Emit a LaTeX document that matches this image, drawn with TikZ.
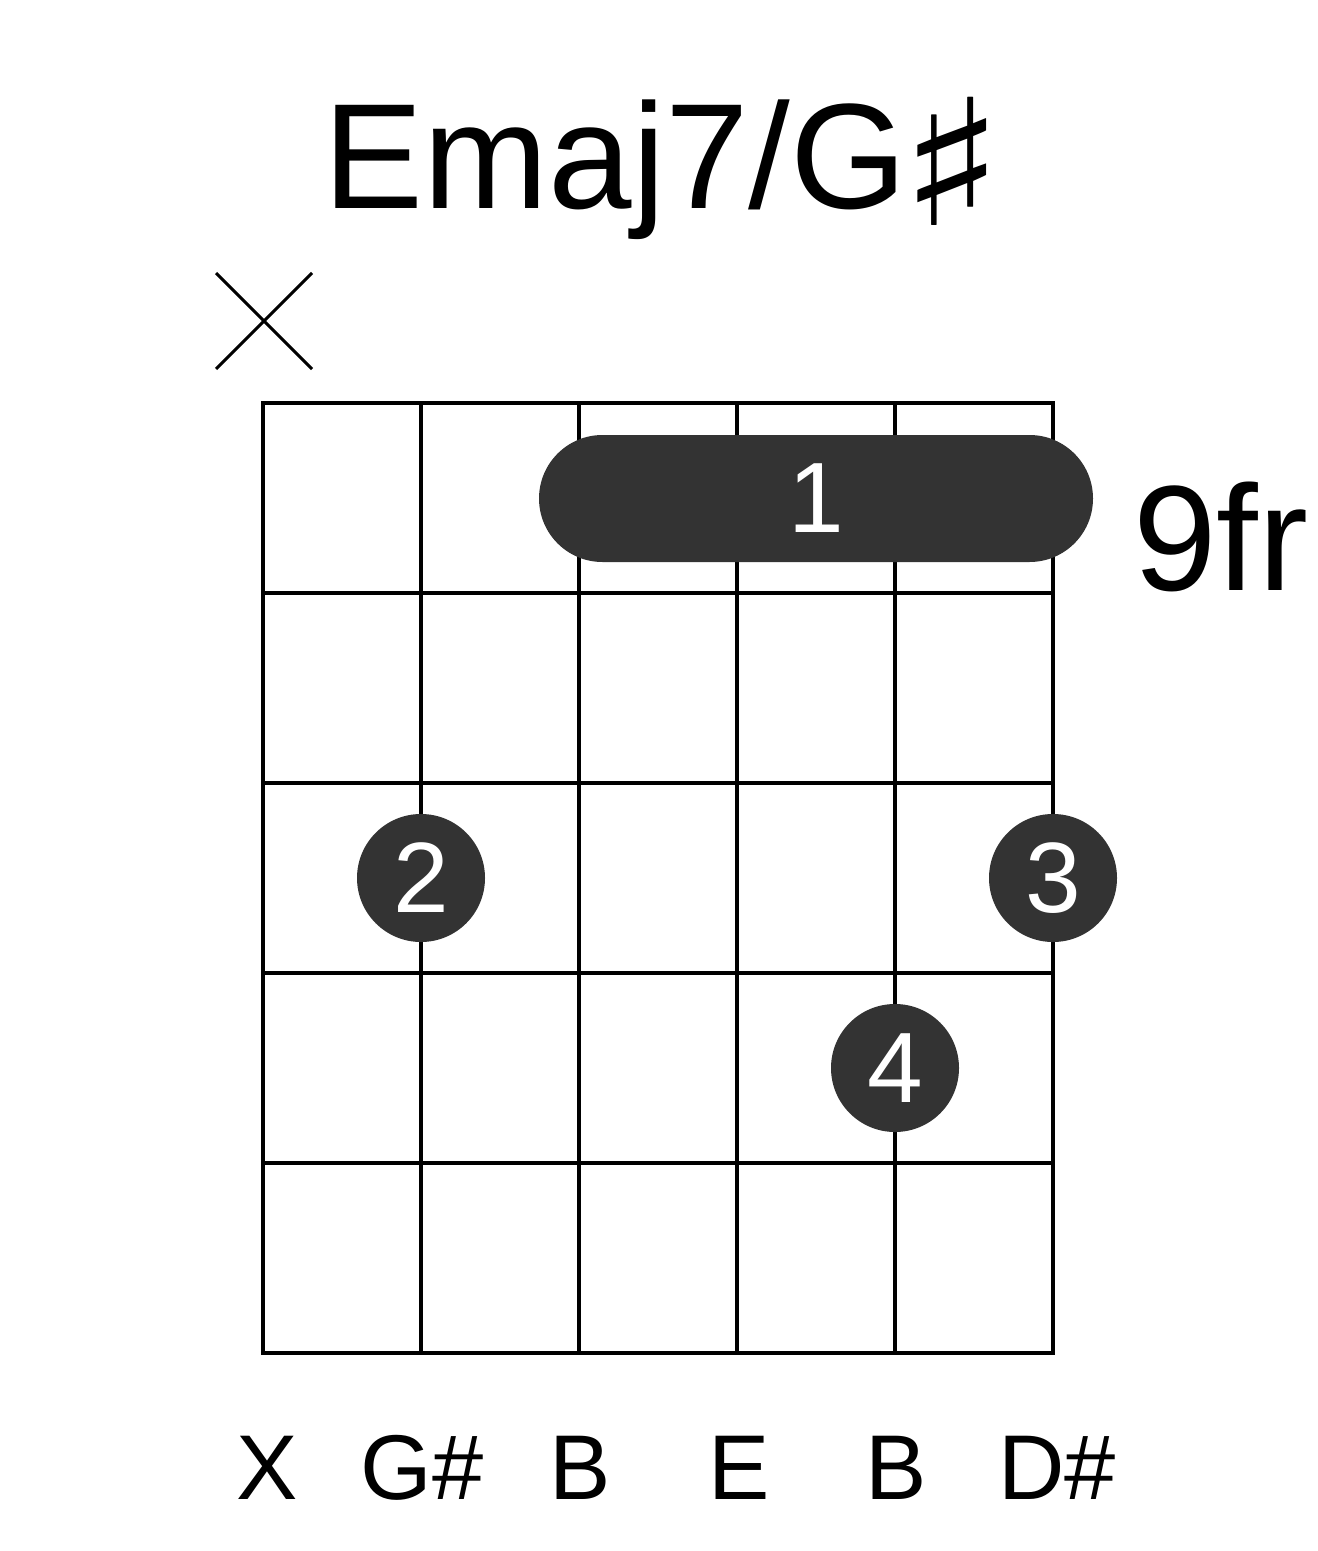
\documentclass[tikz,border=0pt]{standalone}
\usepackage{fontspec}
\setmainfont{Liberation Sans}
\newfontfamily\symfont{DejaVu Sans}
\usetikzlibrary{positioning}

\begin{document}
\begin{tikzpicture}[
    x=0.5pt, y=-0.5pt,
    fret/.style={line width=2.25pt},
    mute/.style={line width=1.5pt},
    dot/.style={circle, fill=black!80, text=white, minimum size=64pt,
                inner sep=0pt, font=\fontsize{50}{60}\selectfont},
    barre/.style={rectangle, rounded corners=31.75pt, fill=black!80, text=white,
                  minimum width=277pt, minimum height=63.5pt, inner sep=0pt,
                  font=\fontsize{50}{60}\selectfont},
    note/.style={anchor=base, font=\fontsize{46}{55}\selectfont},
    big/.style={font=\fontsize{75}{90}\selectfont}
]
\useasboundingbox (0,0) rectangle (1317,1551);

% title
\node[big, anchor=base] (title) at (664,209)
    {Emaj7/G\kern-4pt\raisebox{-8.5pt}{\scalebox{1.45}[1.17]{\symfont ♯}}};

% muted string
\draw[mute] (216,273) -- (312,369);
\draw[mute] (216,369) -- (312,273);

% grid
\draw[fret] (263,403) rectangle (1053,1353);
\draw[fret] (421,403) -- (421,1353);
\draw[fret] (579,403) -- (579,1353);
\draw[fret] (737,403) -- (737,1353);
\draw[fret] (895,403) -- (895,1353);
\draw[fret] (263,593) -- (1053,593);
\draw[fret] (263,783) -- (1053,783);
\draw[fret] (263,973) -- (1053,973);
\draw[fret] (263,1163) -- (1053,1163);

% fingers
\node[barre] (bar) at (816,498.5) {1};
\node[dot] (two) at (421,878) {2};
\node[dot] (three) at (1053,878) {3};
\node[dot] (four) at (895,1068) {4};

% fret number
\node[big, anchor=base west, inner sep=0pt] (fr) at (1133,590) {9fr};

% notes
\node[note] (n1) at (267,1499) {X};
\node[note] (n2) at (422,1499) {G\#};
\node[note] (n3) at (580,1499) {B};
\node[note] (n4) at (739,1499) {E};
\node[note] (n5) at (896,1499) {B};
\node[note] (n6) at (1057,1499) {D\#};
\end{tikzpicture}
\end{document}
